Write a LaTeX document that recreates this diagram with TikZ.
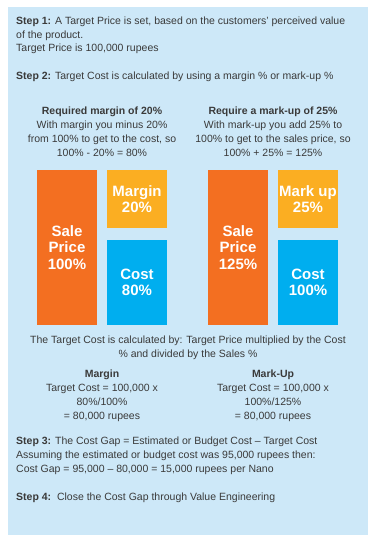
\documentclass[tikz,border=0pt]{standalone}
\usepackage{fontspec}
\setmainfont{Liberation Sans}
\definecolor{bgblue}{HTML}{CDE8F8}
\definecolor{txt}{HTML}{3A3A3A}
\definecolor{orng}{HTML}{F36F21}
\definecolor{yel}{HTML}{FBAE22}
\definecolor{cyanb}{HTML}{00AEEF}
\tikzset{
  body/.style={font=\fontsize{10.5}{13.5}\selectfont, text=txt, inner sep=0pt},
  lline/.style={body, anchor=base west},
  cline/.style={body, anchor=base},
  bar/.style={inner sep=0pt, text=white, align=center, font=\fontsize{15}{16.5}\selectfont\bfseries, minimum width=60pt},
}
\begin{document}
\begin{tikzpicture}[x=1pt,y=-1pt]
\useasboundingbox (0,0) rectangle (374,540);
\fill[white] (0,0) rectangle (374,540);
\fill[bgblue] (8,7) rectangle (368,535);
% Step 1 and 2
\node[lline] (s1a) at (16,25) {\textbf{Step 1:} A Target Price is set, based on the customers’ perceived value};
\node[lline] (s1b) at (16,38.5) {of the product.};
\node[lline] (s1c) at (16,52) {Target Price is 100,000 rupees};
\node[lline] (s2) at (16,79.5) {\textbf{Step 2:} Target Cost is calculated by using a margin \% or mark-up \%};
% left column heading
\node[cline] (lh) at (102,114.5) {\textbf{Required margin of 20\%}};
\node[cline] (la) at (102,128.5) {With margin you minus 20\%};
\node[cline] (lb) at (102,142.5) {from 100\% to get to the cost, so};
\node[cline] (lc) at (102,156.5) {100\% - 20\% = 80\%};
% right column heading
\node[cline] (rh) at (273,114.5) {\textbf{Require a mark-up of 25\%}};
\node[cline] (ra) at (273,128.5) {With mark-up you add 25\% to};
\node[cline] (rb) at (273,142.5) {100\% to get to the sales price, so};
\node[cline] (rc) at (273,156.5) {100\% + 25\% = 125\%};
% bars left
\node[bar, fill=orng, minimum height=155pt] (sp1) at (67,247.5) {Sale\\Price\\100\%};
\node[bar, fill=yel, minimum height=58pt] (mg) at (137,199) {Margin\\20\%};
\node[bar, fill=cyanb, minimum height=85pt] (c1) at (137,282.5) {Cost\\80\%};
% bars right
\node[bar, fill=orng, minimum height=155pt] (sp2) at (238,247.5) {Sale\\Price\\125\%};
\node[bar, fill=yel, minimum height=58pt] (mu) at (308,199) {Mark up\\25\%};
\node[bar, fill=cyanb, minimum height=85pt] (c2) at (308,282.5) {Cost\\100\%};
% target cost explanation
\node[cline] (ta) at (188,343.5) {The Target Cost is calculated by: Target Price multiplied by the Cost};
\node[cline] (tb) at (188,357.5) {\% and divided by the Sales \%};
\node[cline] (mh) at (102,377.5) {\textbf{Margin}};
\node[cline] (ma) at (102,391.5) {Target Cost = 100,000 x};
\node[cline] (mb) at (102,405.5) {80\%/100\%};
\node[cline] (mc) at (102,419.5) {= 80,000 rupees};
\node[cline] (kh) at (273,377.5) {\textbf{Mark-Up}};
\node[cline] (ka) at (273,391.5) {Target Cost = 100,000 x};
\node[cline] (kb) at (273,405.5) {100\%/125\%};
\node[cline] (kc) at (273,419.5) {= 80,000 rupees};
% steps 3 and 4
\node[lline] (s3a) at (16,444.5) {\textbf{Step 3:} The Cost Gap = Estimated or Budget Cost – Target Cost};
\node[lline] (s3b) at (16,458.5) {Assuming the estimated or budget cost was 95,000 rupees then:};
\node[lline] (s3c) at (16,472.5) {Cost Gap = 95,000 – 80,000 = 15,000 rupees per Nano};
\node[lline] (s4) at (16,500.5) {\textbf{Step 4:}\ \ Close the Cost Gap through Value Engineering};
\end{tikzpicture}
\end{document}
